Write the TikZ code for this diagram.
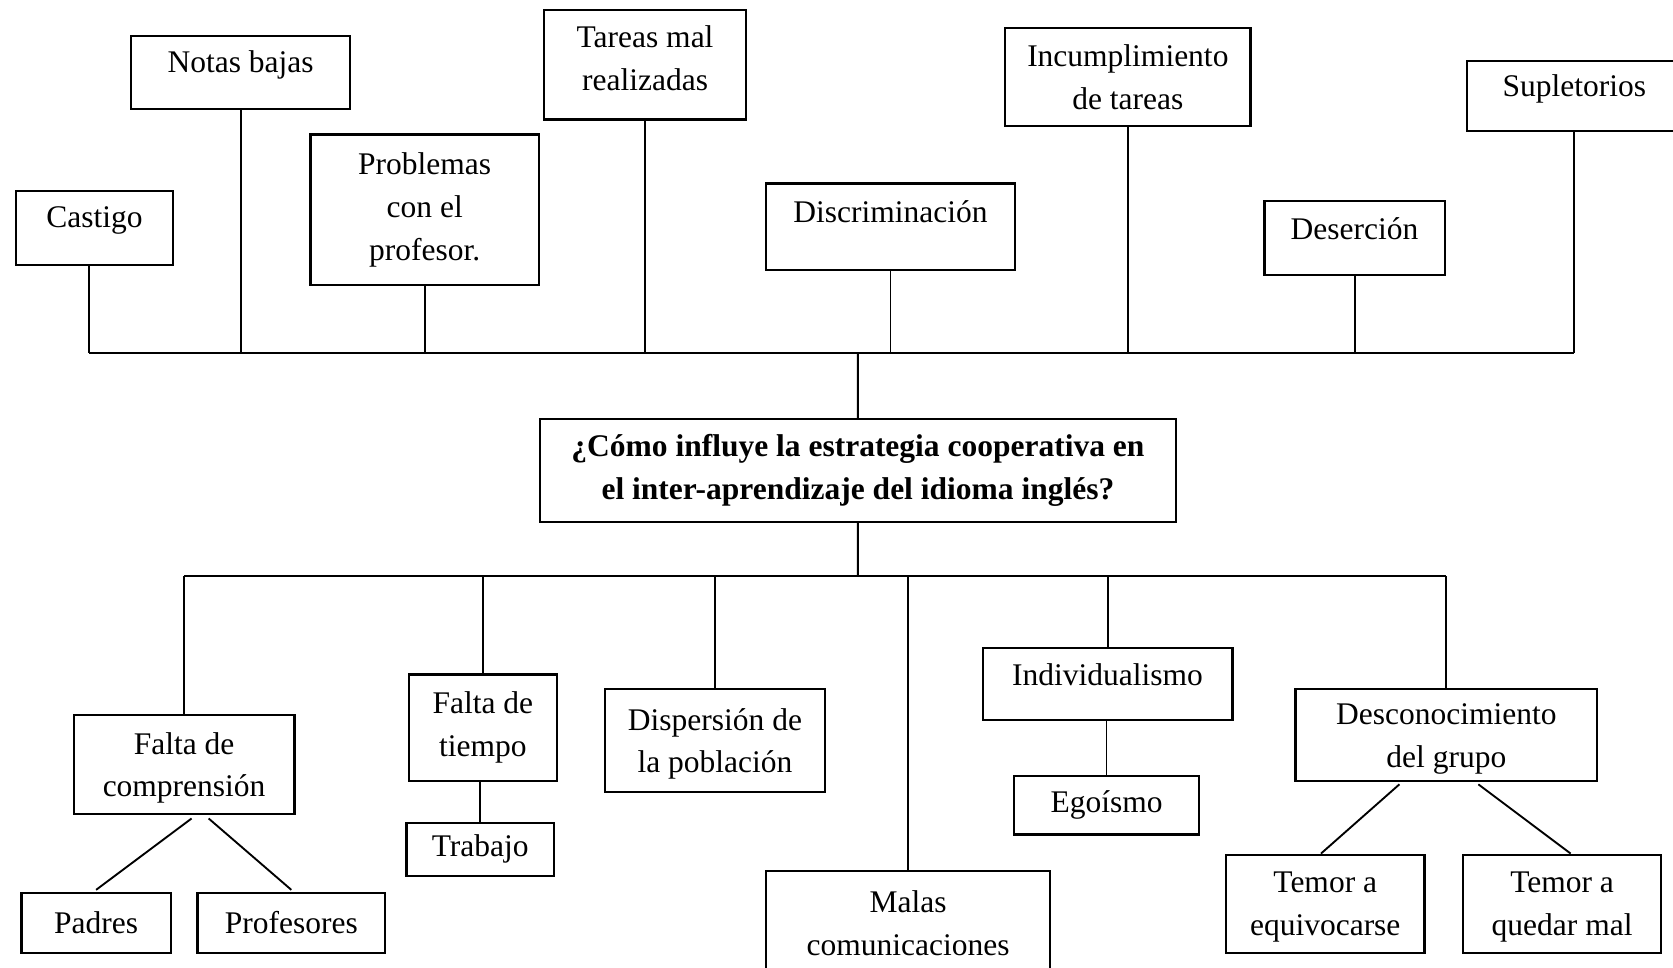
\documentclass[tikz,border=0pt]{standalone}
\usepackage{fontspec}
\setmainfont{Liberation Serif}

\begin{document}
\begin{tikzpicture}[
  caja/.style = {draw, line width=0.6pt, inner sep=0pt, anchor=north west, align=center,
                 font=\fontsize{8.4}{11.4}\selectfont},
  linea/.style = {line width=0.5pt}
]
\useasboundingbox (0,0) rectangle (15.68,-9.07);
% efectos (arriba)
\node[caja, minimum width=1.47cm, minimum height=0.69cm, text depth=0.2cm] (castigo) at (0.14,-1.78) {Castigo};
\node[caja, minimum width=2.05cm, minimum height=0.68cm, text depth=0.2cm] (notas) at (1.22,-0.33) {Notas bajas};
\node[caja, minimum width=2.14cm, minimum height=1.41cm] (problemas) at (2.90,-1.25) {Problemas\\con el\\profesor.};
\node[caja, minimum width=1.89cm, minimum height=1.03cm, text depth=0.12cm] (tareas) at (5.09,-0.08) {Tareas mal\\realizadas};
\node[caja, minimum width=2.33cm, minimum height=0.81cm, text depth=0.28cm] (discrim) at (7.17,-1.71) {Discriminación};
\node[caja, minimum width=2.30cm, minimum height=0.92cm] (incump) at (9.41,-0.25) {Incumplimiento\\de tareas};
\node[caja, minimum width=1.69cm, minimum height=0.70cm, text depth=0.18cm] (desercion) at (11.84,-1.87) {Deserción};
\node[caja, minimum width=2.01cm, minimum height=0.66cm, text depth=0.2cm] (supl) at (13.74,-0.56) {Supletorios};
\coordinate (arriba) at (8.04,-3.31);

% problema central
\node[caja, minimum width=5.96cm, minimum height=0.96cm, font=\fontsize{8.4}{11.4}\selectfont\bfseries] (pregunta) at (5.05,-3.92)
  {¿Cómo influye la estrategia cooperativa en\\el inter-aprendizaje del idioma inglés?};
\coordinate (abajo) at (8.04,-5.40);

% causas (abajo)
\node[caja, minimum width=2.07cm, minimum height=0.93cm, text depth=0pt] (fcomp) at (0.68,-6.69) {Falta de\\comprensión};
\node[caja, minimum width=1.40cm, minimum height=0.56cm] (padres) at (0.19,-8.36) {Padres};
\node[caja, minimum width=1.76cm, minimum height=0.56cm] (profes) at (1.84,-8.36) {Profesores};
\node[caja, minimum width=1.39cm, minimum height=1.00cm] (ftiempo) at (3.82,-6.31) {Falta de\\tiempo};
\node[caja, minimum width=1.38cm, minimum height=0.50cm] (trabajo) at (3.80,-7.70) {Trabajo};
\node[caja, minimum width=2.06cm, minimum height=0.96cm, text depth=0pt] (dispersion) at (5.66,-6.45) {Dispersión de\\la población};
\node[caja, minimum width=2.66cm, minimum height=0.99cm] (malas) at (7.17,-8.15) {Malas\\comunicaciones};
\node[caja, minimum width=2.34cm, minimum height=0.68cm, text depth=0.17cm] (indiv) at (9.20,-6.06) {Individualismo};
\node[caja, minimum width=1.74cm, minimum height=0.55cm] (egoismo) at (9.49,-7.26) {Egoísmo};
\node[caja, minimum width=2.83cm, minimum height=0.86cm, text depth=0pt] (descon) at (12.13,-6.45) {Desconocimiento\\del grupo};
\node[caja, minimum width=1.86cm, minimum height=0.92cm, text depth=0pt] (temeq) at (11.48,-8.00) {Temor a\\equivocarse};
\node[caja, minimum width=1.86cm, minimum height=0.92cm, text depth=0pt] (temqm) at (13.70,-8.00) {Temor a\\quedar mal};

% conectores de arriba
\draw[linea] ([xshift=-0.05cm]castigo.south |- arriba) -- (supl.south |- arriba);
\draw[linea] ([xshift=-0.05cm]castigo.south) -- ([xshift=-0.05cm]castigo.south |- arriba);
\draw[linea] (notas.south) -- (notas.south |- arriba);
\draw[linea] (problemas.south) -- (problemas.south |- arriba);
\draw[linea] (tareas.south) -- (tareas.south |- arriba);
\draw[linea] (discrim.south) -- (discrim.south |- arriba);
\draw[linea] (incump.south) -- (incump.south |- arriba);
\draw[linea] (desercion.south) -- (desercion.south |- arriba);
\draw[linea] (supl.south) -- (supl.south |- arriba);
\draw[linea] (arriba) -- (pregunta.north);

% conectores de abajo
\draw[linea] (pregunta.south) -- (abajo);
\draw[linea] (fcomp.north |- abajo) -- (descon.north |- abajo);
\draw[linea] (fcomp.north) -- (fcomp.north |- abajo);
\draw[linea] (ftiempo.north) -- (ftiempo.north |- abajo);
\draw[linea] (dispersion.north) -- (dispersion.north |- abajo);
\draw[linea] (malas.north) -- (malas.north |- abajo);
\draw[linea] (indiv.north) -- (indiv.north |- abajo);
\draw[linea] (descon.north) -- (descon.north |- abajo);
\draw[linea] (trabajo.north |- ftiempo.south) -- (trabajo.north);
\draw[linea] (egoismo.north |- indiv.south) -- (egoismo.north);
\draw[linea] ([xshift=0.07cm,yshift=-0.03cm]fcomp.south) -- ([yshift=0.02cm]padres.north);
\draw[linea] ([xshift=0.23cm,yshift=-0.03cm]fcomp.south) -- ([yshift=0.02cm]profes.north);
\draw[linea] ([xshift=-0.44cm,yshift=-0.02cm]descon.south) -- ([xshift=-0.04cm]temeq.north);
\draw[linea] ([xshift=0.30cm,yshift=-0.02cm]descon.south) -- ([xshift=0.08cm]temqm.north);
\end{tikzpicture}
\end{document}
